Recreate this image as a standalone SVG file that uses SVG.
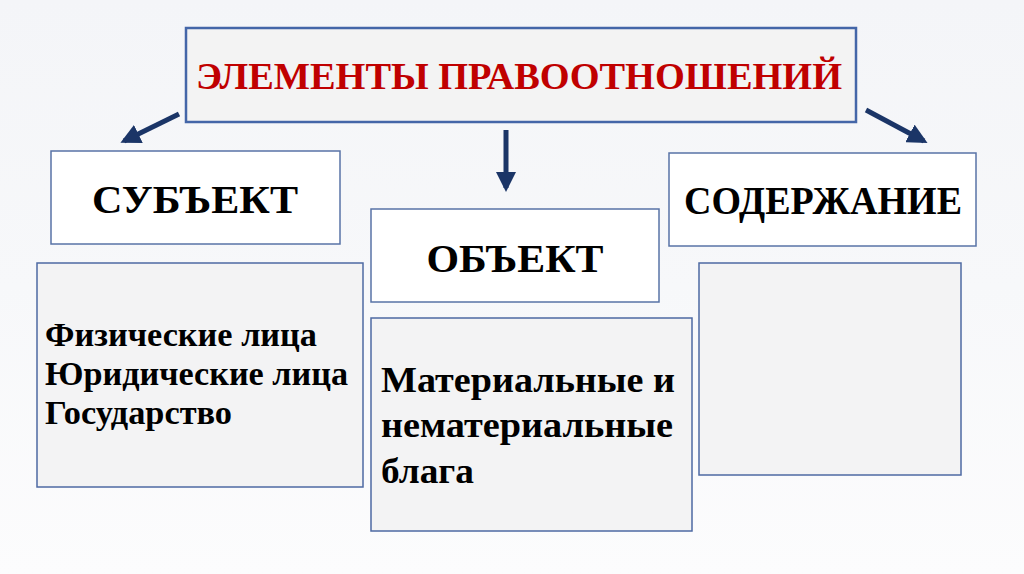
<svg xmlns="http://www.w3.org/2000/svg" width="1024" height="574" viewBox="0 0 1024 574">
<defs>
<linearGradient id="bg" x1="0" y1="0" x2="0" y2="1">
<stop offset="0" stop-color="#F4F5F8"/>
<stop offset="0.5" stop-color="#F7F8FA"/>
<stop offset="1" stop-color="#FCFCFD"/>
</linearGradient>
<marker id="ah" viewBox="0 0 10 10" refX="8" refY="5" markerWidth="4" markerHeight="4" orient="auto" markerUnits="strokeWidth">
<path d="M0,0 L10,5 L0,10 z" fill="#1B3567"/>
</marker>
<style>
.hb{fill:#FFFFFF;stroke:#5873A6;stroke-width:1.5}
.cb{fill:#F3F3F4;stroke:#4E6AA3;stroke-width:1.5}
.h{font-family:'Liberation Serif',serif;font-weight:700;font-size:41px;fill:#000000;text-anchor:middle}
.t{font-family:'Liberation Serif',serif;font-weight:700;fill:#000000}
.ar{stroke:#1B3567;stroke-width:5;fill:none;marker-end:url(#ah)}
</style>
</defs>
<rect width="1024" height="574" fill="url(#bg)"/>
<g id="title">
<rect x="186" y="28" width="670" height="94" fill="#F3F3F3" stroke="#4466A8" stroke-width="2.5"/>
<text x="519" y="89" style="font-family:'Liberation Serif',serif;font-weight:700;font-size:38px" fill="#C00000" text-anchor="middle" textLength="646" lengthAdjust="spacingAndGlyphs">ЭЛЕМЕНТЫ ПРАВООТНОШЕНИЙ</text>
</g>
<g id="connectors">
<line class="ar" x1="179" y1="114" x2="124" y2="141"/>
<line class="ar" x1="506" y1="130" x2="506" y2="188"/>
<line class="ar" x1="866" y1="110" x2="924" y2="141"/>
</g>
<g id="subject">
<rect class="hb" x="51" y="151" width="289" height="93"/>
<text class="h" x="195" y="213" textLength="206" lengthAdjust="spacingAndGlyphs">СУБЪЕКТ</text>
</g>
<g id="subject-content">
<rect class="cb" x="37" y="263" width="326" height="224"/>
<text class="t" font-size="33" x="45" y="346" textLength="272" lengthAdjust="spacingAndGlyphs">Физические лица</text>
<text class="t" font-size="33" x="45" y="385" textLength="303" lengthAdjust="spacingAndGlyphs">Юридические лица</text>
<text class="t" font-size="33" x="45" y="424" textLength="187" lengthAdjust="spacingAndGlyphs">Государство</text>
</g>
<g id="object">
<rect class="hb" x="371" y="209" width="288" height="93"/>
<text class="h" x="515" y="272" textLength="177" lengthAdjust="spacingAndGlyphs">ОБЪЕКТ</text>
</g>
<g id="object-content">
<rect class="cb" x="371" y="318" width="321" height="213"/>
<text class="t" font-size="35" x="381" y="392" textLength="294" lengthAdjust="spacingAndGlyphs">Материальные и</text>
<text class="t" font-size="35" x="381" y="437" textLength="292" lengthAdjust="spacingAndGlyphs">нематериальные</text>
<text class="t" font-size="35" x="381" y="483" textLength="93" lengthAdjust="spacingAndGlyphs">блага</text>
</g>
<g id="content">
<rect class="hb" x="669" y="153" width="307" height="93"/>
<text class="h" x="823" y="214" textLength="278" lengthAdjust="spacingAndGlyphs">СОДЕРЖАНИЕ</text>
</g>
<g id="content-box">
<rect class="cb" x="699" y="263" width="262" height="212"/>
</g>
</svg>
